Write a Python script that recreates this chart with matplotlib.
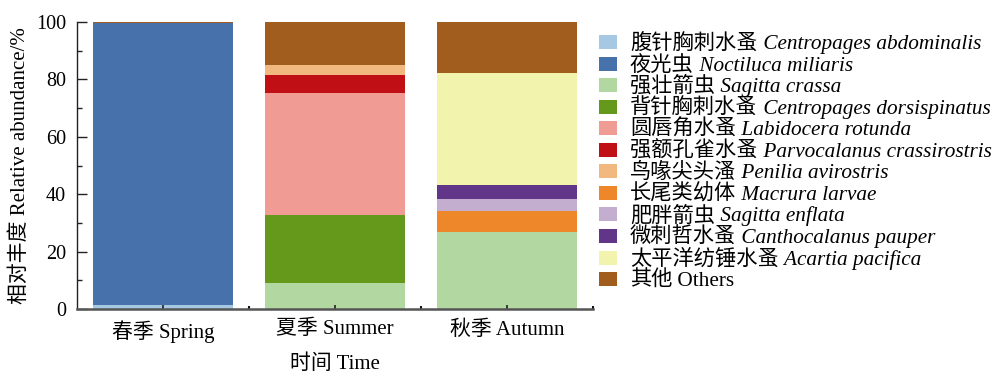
import matplotlib
matplotlib.use("Agg")
import matplotlib.pyplot as plt
from matplotlib.patches import Rectangle
import numpy as np

plt.rcParams['font.family'] = ['Liberation Serif', 'Noto Sans CJK SC']

seasons = ['春季 Spring', '夏季 Summer', '秋季 Autumn']

names_cn = ['腹针胸刺水蚤', '夜光虫', '强壮箭虫', '背针胸刺水蚤', '圆唇角水蚤',
            '强额孔雀水蚤', '鸟喙尖头溞', '长尾类幼体', '肥胖箭虫', '微刺哲水蚤',
            '太平洋纺锤水蚤', '其他']
names_latin = ['Centropages abdominalis', 'Noctiluca miliaris', 'Sagitta crassa',
               'Centropages dorsispinatus', 'Labidocera rotunda',
               'Parvocalanus crassirostris', 'Penilia avirostris', 'Macrura larvae',
               'Sagitta enflata', 'Canthocalanus pauper', 'Acartia pacifica', 'Others']
latin_italic = [True] * 11 + [False]

colors = ['#a6c8e2', '#4671aa', '#b3d7a0', '#64991b', '#f09b94', '#c01016',
          '#f1b97f', '#ee862a', '#c3aecf', '#613587', '#f2f4ad', '#a05d1e']

# relative abundance (%) per species, for Spring / Summer / Autumn
abundance = {
    'Centropages abdominalis':   [1.5, 0.0, 0.0],
    'Noctiluca miliaris':        [98.0, 0.0, 0.0],
    'Sagitta crassa':            [0.0, 9.0, 26.8],
    'Centropages dorsispinatus': [0.0, 23.7, 0.0],
    'Labidocera rotunda':        [0.0, 42.6, 0.0],
    'Parvocalanus crassirostris':[0.0, 6.3, 0.0],
    'Penilia avirostris':        [0.0, 3.4, 0.0],
    'Macrura larvae':            [0.0, 0.0, 7.4],
    'Sagitta enflata':           [0.0, 0.0, 4.3],
    'Canthocalanus pauper':      [0.0, 0.0, 4.8],
    'Acartia pacifica':          [0.0, 0.0, 39.0],
    'Others':                    [0.5, 15.0, 17.7],
}

fig = plt.figure(figsize=(9.96, 3.73), dpi=100)
W, H = fig.canvas.get_width_height()
ax = fig.add_axes([0.0773, 0.1716, 0.518, 0.7694])

x = np.arange(len(seasons))
bottom = np.zeros(len(seasons))
for name, c in zip(names_latin, colors):
    vals = np.array(abundance[name])
    ax.bar(x, vals, width=0.81, bottom=bottom, color=c, edgecolor='none', zorder=1)
    bottom += vals

ax.set_xlim(-0.5, 2.5)
ax.set_ylim(0, 100)
ax.set_xticks(x)
ax.set_xticklabels(seasons, fontsize=15)
ax.set_xticks([0.5, 1.5, 2.5], minor=True)
ax.set_yticks(np.arange(0, 101, 20))
ax.set_yticks(np.arange(10, 100, 20), minor=True)
ax.tick_params(axis='y', which='major', labelsize=14.5, direction='in', length=7,
               width=1, color='#222222', pad=8)
ax.tick_params(axis='y', which='minor', direction='in', length=3.5, width=1, color='#222222')
ax.tick_params(axis='x', which='major', direction='in', length=3, width=1.2,
               color='#222222', pad=8)
ax.tick_params(axis='x', which='minor', direction='in', length=2.5, width=1.5, color='#111111')
for s in ['top', 'right']:
    ax.spines[s].set_visible(False)
ax.spines['left'].set_color('#222222')
ax.spines['left'].set_linewidth(1.0)
ax.spines['bottom'].set_color('#555555')
ax.spines['bottom'].set_linewidth(1.8)

ax.set_xlabel('时间 Time', fontsize=15, labelpad=8)
ax.set_ylabel('相对丰度 Relative abundance/%', fontsize=15, labelpad=4)

# legend drawn as swatches plus two-part labels (Chinese name + Latin name)
leg_fs = 15.3
row0, row_step = 42.0, 21.55       # row centres, pixels from top
sw_x, sw_w, sw_h = 599, 18, 14     # swatch geometry, pixels
txt_x = 630
renderer = fig.canvas.get_renderer()
for i, (cn, latin, it, c) in enumerate(zip(names_cn, names_latin, latin_italic, colors)):
    yc = row0 + i * row_step
    fig.add_artist(Rectangle((sw_x / W, 1 - (yc + sw_h / 2) / H), sw_w / W, sw_h / H,
                             transform=fig.transFigure, facecolor=c, edgecolor='none'))
    base = 1 - (yc + 7.0) / H
    t = fig.text(txt_x / W, base, cn, fontsize=leg_fs, va='baseline', ha='left')
    bb = t.get_window_extent(renderer)
    fig.text(bb.x1 / W, base, ' ' + latin, fontsize=leg_fs,
             style='italic' if it else 'normal', va='baseline', ha='left')

fig.savefig('out.png', dpi=100)
